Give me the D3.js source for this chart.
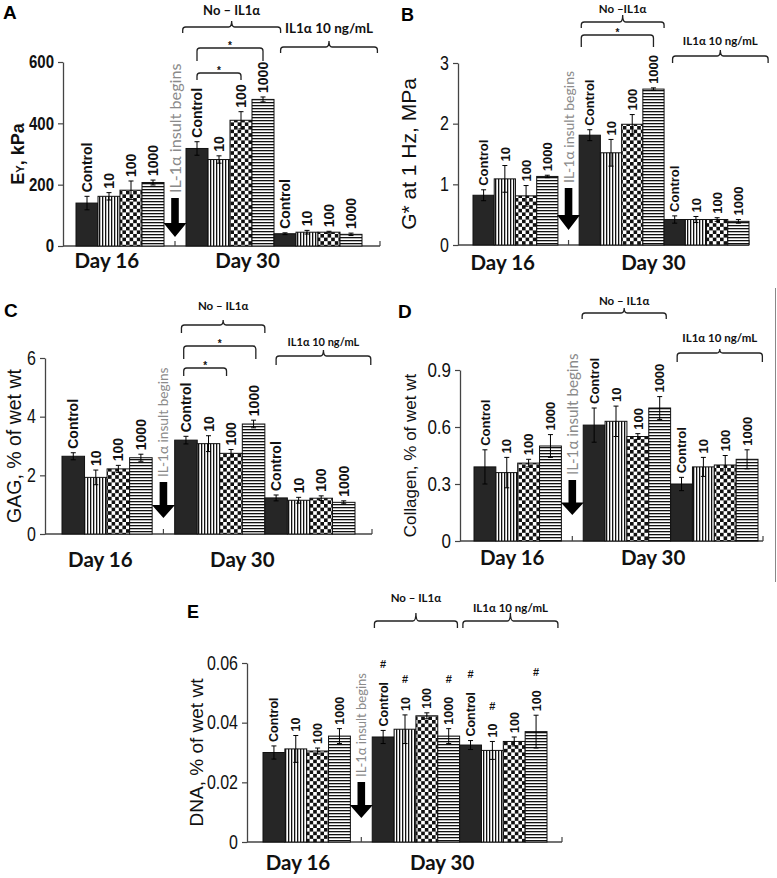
<!DOCTYPE html>
<html>
<head>
<meta charset="utf-8">
<script src="https://cdn.jsdelivr.net/npm/d3@7"></script>
<style>
  body { margin: 0; background: #fff; }
  svg { display: block; }
</style>
</head>
<body>
<div id="fig"></div>
<script>
// ---- categories ----
const doses = ["Control", "10", "100", "1000"];
const dosesDnaIl = ["Control", "10", "100", "100"]; // printed this way in panel E
const dayLabels = ["Day 16", "Day 30"];

// ---- A: Ey, kPa ----
const eyDay16 = [140, 162, 182, 207];
const eyDay16Err = [22, 12, 30, 8];
const eyDay30 = [318, 282, 410, 478];
const eyDay30Err = [22, 12, 28, 8];
const eyIl = [40, 45, 45, 38];
const eyIlErr = [3, 6, 3, 4];
const eyTicks = [0, 200, 400, 600];

// ---- B: G* at 1 Hz, MPa ----
const gDay16 = [0.82, 1.09, 0.81, 1.13];
const gDay16Err = [0.09, 0.22, 0.17, 0.02];
const gDay30 = [1.81, 1.52, 1.99, 2.57];
const gDay30Err = [0.09, 0.22, 0.16, 0.02];
const gIl = [0.42, 0.42, 0.42, 0.39];
const gIlErr = [0.06, 0.05, 0.03, 0.03];
const gTicks = [0, 1, 2, 3];

// ---- C: GAG, % of wet wt ----
const gagDay16 = [2.65, 1.93, 2.22, 2.6];
const gagDay16Err = [0.12, 0.25, 0.12, 0.12];
const gagDay30 = [3.2, 3.08, 2.75, 3.75];
const gagDay30Err = [0.13, 0.27, 0.13, 0.13];
const gagIl = [1.23, 1.15, 1.22, 1.08];
const gagIlErr = [0.1, 0.1, 0.08, 0.05];
const gagTicks = [0, 2, 4, 6];

// ---- D: Collagen, % of wet wt ----
const colDay16 = [0.39, 0.36, 0.41, 0.5];
const colDay16Err = [0.09, 0.08, 0.02, 0.06];
const colDay30 = [0.61, 0.63, 0.55, 0.7];
const colDay30Err = [0.09, 0.08, 0.015, 0.06];
const colIl = [0.3, 0.39, 0.4, 0.43];
const colIlErr = [0.035, 0.05, 0.05, 0.05];
const colTicks = [0, 0.3, 0.6, 0.9];

// ---- E: DNA, % of wet wt ----
const dnaDay16 = [0.03, 0.0312, 0.0305, 0.0355];
const dnaDay16Err = [0.0022, 0.0045, 0.001, 0.0025];
const dnaDay30 = [0.0352, 0.0378, 0.0423, 0.0355];
const dnaDay30Err = [0.0022, 0.0048, 0.001, 0.0025];
const dnaIl = [0.0325, 0.0307, 0.0337, 0.037];
const dnaIlErr = [0.0015, 0.003, 0.0015, 0.0055];
const dnaDay30Sig = [true, true, false, true];
const dnaIlSig = [true, true, false, true];
const dnaTicks = [0, 0.02, 0.04, 0.06];


/*******************************/
/*        SVG + patterns       */
/*******************************/
const svg = d3.select("#fig")
  .append("svg")
    .attr("width", 777)
    .attr("height", 878);

const defs = svg.append("defs");
const vert = defs.append("pattern")
  .attr("id", "vert").attr("patternUnits", "userSpaceOnUse")
  .attr("width", 3).attr("height", 10);
vert.append("rect").attr("width", 3).attr("height", 10).attr("fill", "#fff");
vert.append("rect").attr("width", 1.3).attr("height", 10).attr("fill", "#111");

const horiz = defs.append("pattern")
  .attr("id", "horiz").attr("patternUnits", "userSpaceOnUse")
  .attr("width", 10).attr("height", 3);
horiz.append("rect").attr("width", 10).attr("height", 3).attr("fill", "#fff");
horiz.append("rect").attr("width", 10).attr("height", 1.3).attr("fill", "#111");

const checker = defs.append("pattern")
  .attr("id", "checker").attr("patternUnits", "userSpaceOnUse")
  .attr("width", 7.2).attr("height", 7.2);
checker.append("rect").attr("width", 7.2).attr("height", 7.2).attr("fill", "#fff");
checker.append("rect").attr("width", 3.6).attr("height", 3.6).attr("fill", "#111");
checker.append("rect").attr("x", 3.6).attr("y", 3.6).attr("width", 3.6).attr("height", 3.6).attr("fill", "#111");

const fills = ["#262626", "url(#vert)", "url(#checker)", "url(#horiz)"];

const arialFont = "Arial, 'Liberation Sans', Helvetica, sans-serif";
const calibriFont = "Lato, 'Open Sans', sans-serif";


/*******************************/
/*       Panel definitions     */
/*******************************/
const panels = [
  {
    letter: "A", letterPos: [3, 19], letterSize: 19,
    axisX: 63, yTop: 62, yBot: 246, axisEnd: 380, barX0: 76, barX1: 362,
    domain: [0, 600], ticks: eyTicks, tickFmt: d3.format("d"), tickBold: true, tickSize: 15,
    yLabel: ["E", "Y", ", kPa"], yLabelX: 18, yLabelSize: 18, yLabelBold: true,
    series: [[eyDay16, eyDay16Err, doses], [eyDay30, eyDay30Err, doses], [eyIl, eyIlErr, doses]],
    barLabelSize: 14, dayPos: [1.4, 7.8], dayY: 268,
    arrow: [48, 9], insultSize: 16.2,
    brackets: [
      { s: [4.85, 9.3], y: 27, leg: 6, tick: 6, text: "No \u2013 IL1\u03b1", textY: 15, size: 13 },
      { s: [9.3, 13.7], y: 47, leg: 6, tick: 6, text: "IL1\u03b1 10 ng/mL", textY: 33, size: 13.5 }
    ],
    stars: [
      { s: [5.5, 8.5], y: 48, leg: 13 },
      { s: [5.5, 7.5], y: 73, leg: 7 }
    ]
  },
  {
    letter: "B", letterPos: [401, 21], letterSize: 18,
    axisX: 458, yTop: 63, yBot: 245, axisEnd: 749, barX0: 473, barX1: 749,
    domain: [0, 3], ticks: gTicks, tickFmt: d3.format("d"), tickBold: false, tickSize: 16,
    yLabel: ["G* at 1 Hz, MPa"], yLabelX: 409, yLabelSize: 21, yLabelBold: false,
    series: [[gDay16, gDay16Err, doses], [gDay30, gDay30Err, doses], [gIl, gIlErr, doses]],
    barLabelSize: 13, dayPos: [1.4, 8.5], dayY: 270,
    arrow: [57, 15], insultSize: 14,
    brackets: [
      { s: [5.1, 9.0], y: 22, leg: 6, tick: 7, text: "No \u2013IL1\u03b1", textY: 13, size: 11.5 },
      { s: [9.4, 13.9], y: 56, leg: 7, tick: 6, text: "IL1\u03b1 10 ng/mL", textY: 45, size: 11.5 }
    ],
    stars: [
      { s: [5.1, 8.5], y: 35, leg: 12 }
    ]
  },
  {
    letter: "C", letterPos: [4, 317], letterSize: 19,
    axisX: 45, yTop: 358, yBot: 534, axisEnd: 372, barX0: 62, barX1: 355,
    domain: [0, 6], ticks: gagTicks, tickFmt: d3.format("d"), tickBold: false, tickSize: 16,
    yLabel: ["GAG, % of wet wt"], yLabelX: 14, yLabelSize: 19.5, yLabelBold: false,
    series: [[gagDay16, gagDay16Err, doses], [gagDay30, gagDay30Err, doses], [gagIl, gagIlErr, doses]],
    barLabelSize: 14, dayPos: [1.7, 8.0], dayY: 567,
    arrow: [52, 16], insultSize: 13.7,
    brackets: [
      { s: [5.3, 9.0], y: 325, leg: 8, tick: 5, text: "No \u2013 IL1\u03b1", textY: 310, size: 11.5 },
      { s: [9.5, 13.7], y: 356, leg: 9, tick: 6, text: "IL1\u03b1 10 ng/mL", textY: 346, size: 11 }
    ],
    stars: [
      { s: [5.4, 8.6], y: 346, leg: 13 },
      { s: [5.4, 7.3], y: 368, leg: 8 }
    ]
  },
  {
    letter: "D", letterPos: [398, 318], letterSize: 19,
    axisX: 460, yTop: 370, yBot: 541, axisEnd: 763, barX0: 474, barX1: 758,
    domain: [0, 0.9], ticks: colTicks, tickFmt: d => d === 0 ? "0" : d3.format(".1f")(d), tickBold: false, tickSize: 17,
    yLabel: ["Collagen, % of wet wt"], yLabelX: 410, yLabelSize: 17, yLabelBold: false,
    series: [[colDay16, colDay16Err, doses], [colDay30, colDay30Err, doses], [colIl, colIlErr, doses]],
    barLabelSize: 13, dayPos: [1.75, 8.2], dayY: 565,
    arrow: [61, 26], insultSize: 15.2,
    brackets: [
      { s: [4.95, 8.8], y: 313, leg: 6, tick: 5, text: "No \u2013 IL1\u03b1", textY: 305, size: 11.5 },
      { s: [9.3, 13.2], y: 353, leg: 9, tick: 4, text: "IL1\u03b1 10 ng/mL", textY: 342, size: 11.5 }
    ],
    stars: [],
    border: true
  },
  {
    letter: "E", letterPos: [187, 618], letterSize: 18,
    axisX: 247, yTop: 663, yBot: 842, axisEnd: 562, barX0: 263, barX1: 547,
    domain: [0, 0.06], ticks: dnaTicks, tickFmt: d => d === 0 ? "0" : d3.format(".2f")(d), tickBold: false, tickSize: 16,
    yLabel: ["DNA, % of wet wt"], yLabelX: 196, yLabelSize: 19, yLabelBold: false,
    series: [[dnaDay16, dnaDay16Err, doses], [dnaDay30, dnaDay30Err, doses, dnaDay30Sig], [dnaIl, dnaIlErr, dosesDnaIl, dnaIlSig]],
    barLabelSize: 12.5, dayPos: [1.6, 8.2], dayY: 870,
    arrow: [60, 24], insultSize: 13,
    brackets: [
      { s: [5.1, 8.9], y: 621, leg: 7, tick: 8, text: "No \u2013 IL1\u03b1", textY: 602, size: 11.5 },
      { s: [9.15, 13.5], y: 621, leg: 7, tick: 8, text: "IL1\u03b1 10 ng/mL", textY: 612, size: 11.5 }
    ],
    stars: []
  }
];


/*******************************/
/*          Helpers            */
/*******************************/
const bracketPath = (x0, x1, y, leg, tick) => {
  const cx = (x0 + x1) / 2, r = 3;
  let p = `M${x0},${y + leg} L${x0},${y + r} Q${x0},${y} ${x0 + r},${y} `;
  if (tick) {
    p += `L${cx - r},${y} Q${cx},${y} ${cx},${y - tick} Q${cx},${y} ${cx + r},${y} `;
  }
  p += `L${x1 - r},${y} Q${x1},${y} ${x1},${y + r} L${x1},${y + leg}`;
  return p;
};

const drawPanel = (p) => {
  const g = svg.append("g");

  // Scales
  const xScale = d3.scaleBand()
    .domain(d3.range(13))
    .range([p.barX0, p.barX1])
    .paddingInner(0);
  const slotX = s => p.barX0 + s * xScale.step();
  const yScale = d3.scaleLinear()
    .domain(p.domain)
    .range([p.yBot, p.yTop]);

  // Left axis (tick digits in the source are drawn tall and narrow)
  const leftAxis = g.append("g")
    .attr("transform", `translate(${p.axisX}, 0)`)
    .call(d3.axisLeft(yScale).tickValues(p.ticks).tickFormat(p.tickFmt).tickSize(5).tickSizeOuter(0).tickPadding(4));
  leftAxis.select(".domain").attr("stroke", "#444").attr("stroke-width", 1.3);
  leftAxis.selectAll(".tick line").attr("stroke", "#444").attr("stroke-width", 1.2);
  leftAxis.selectAll(".tick text")
    .attr("font-family", arialFont)
    .attr("font-size", p.tickSize)
    .attr("font-weight", p.tickBold ? "bold" : "normal")
    .attr("transform", "scale(1, 1.22)")
    .attr("fill", "#111");

  // Bottom axis line, with inner ticks at the category boundary and end
  const gapCenter = slotX(4.5);
  g.append("line")
    .attr("x1", p.axisX).attr("x2", p.axisEnd)
    .attr("y1", p.yBot).attr("y2", p.yBot)
    .attr("stroke", "#444").attr("stroke-width", 1.3);
  [gapCenter, p.axisEnd].forEach(x => {
    g.append("line")
      .attr("x1", x).attr("x2", x)
      .attr("y1", p.yBot).attr("y2", p.yBot - 5)
      .attr("stroke", "#444").attr("stroke-width", 1.2);
  });

  // Y label
  const yl = g.append("text")
    .attr("transform", `translate(${p.yLabelX}, ${(p.yTop + p.yBot) / 2}) rotate(-90)`)
    .attr("text-anchor", "middle")
    .attr("dy", "0.35em")
    .attr("font-family", arialFont)
    .attr("font-size", p.yLabelSize)
    .attr("font-weight", p.yLabelBold ? "bold" : "normal")
    .attr("fill", "#111");
  if (p.yLabel.length === 3) {
    yl.append("tspan").text(p.yLabel[0]);
    yl.append("tspan").attr("font-size", p.yLabelSize * 0.62).text(p.yLabel[1]);
    yl.append("tspan").text(p.yLabel[2]);
  } else {
    yl.text(p.yLabel[0]);
  }

  // Bars
  const bars = [];
  const slotStarts = [0, 5, 9];
  p.series.forEach(([vals, errs, labels, sig], si) => {
    vals.forEach((v, i) => bars.push({
      slot: slotStarts[si] + i, value: v, err: errs[i], label: labels[i],
      fill: fills[i], sig: sig ? sig[i] : false
    }));
  });

  g.selectAll(".bar")
    .data(bars)
    .join("rect")
      .attr("class", "bar")
      .attr("x", d => xScale(d.slot))
      .attr("y", d => yScale(d.value))
      .attr("width", xScale.bandwidth())
      .attr("height", d => yScale(0) - yScale(d.value))
      .attr("fill", d => d.fill)
      .attr("stroke", "#111")
      .attr("stroke-width", 1);

  // Error bars
  const eb = g.selectAll(".err")
    .data(bars)
    .join("g")
      .attr("class", "err")
      .attr("stroke", "#000")
      .attr("stroke-width", 1);
  const cx = d => xScale(d.slot) + xScale.bandwidth() / 2;
  eb.append("line")
    .attr("x1", cx).attr("x2", cx)
    .attr("y1", d => yScale(d.value - d.err))
    .attr("y2", d => yScale(d.value + d.err));
  ["-", "+"].forEach(sign => {
    eb.append("line")
      .attr("x1", d => cx(d) - 2.5).attr("x2", d => cx(d) + 2.5)
      .attr("y1", d => yScale(sign === "+" ? d.value + d.err : d.value - d.err))
      .attr("y2", d => yScale(sign === "+" ? d.value + d.err : d.value - d.err));
  });

  // Rotated bar labels
  bars.forEach(d => {
    const y0 = yScale(d.value + d.err) - 4;
    const t = g.append("text")
      .attr("transform", `translate(${cx(d)}, ${y0}) rotate(-90)`)
      .attr("dy", "0.36em")
      .attr("font-family", arialFont)
      .attr("font-size", p.barLabelSize)
      .attr("font-weight", "bold")
      .attr("fill", "#111")
      .text(d.label);
    if (d.sig) {
      const len = t.node().getComputedTextLength();
      g.append("text")
        .attr("x", cx(d))
        .attr("y", y0 - len - 14)
        .attr("text-anchor", "middle")
        .attr("font-family", arialFont)
        .attr("font-size", 11)
        .attr("font-weight", "bold")
        .attr("fill", "#111")
        .text("#");
    }
  });

  // Arrow + "IL-1α insult begins"
  const aTop = p.yBot - p.arrow[0];
  const aTip = p.yBot - p.arrow[1];
  const hh = (aTip - aTop) * 0.36;
  const sw = 3.8, hw = 11.5;
  g.append("path")
    .attr("d", `M${gapCenter - sw},${aTop} L${gapCenter + sw},${aTop} L${gapCenter + sw},${aTip - hh} L${gapCenter + hw},${aTip - hh} L${gapCenter},${aTip} L${gapCenter - hw},${aTip - hh} L${gapCenter - sw},${aTip - hh} Z`)
    .attr("fill", "#000");
  g.append("text")
    .attr("transform", `translate(${gapCenter}, ${aTop - 5}) rotate(-90)`)
    .attr("dy", "0.36em")
    .attr("font-family", calibriFont)
    .attr("font-size", p.insultSize)
    .attr("fill", "#8a8a8a")
    .text("IL-1\u03b1 insult begins");

  // Day labels
  p.dayPos.forEach((s, i) => {
    g.append("text")
      .attr("x", slotX(s))
      .attr("y", p.dayY)
      .attr("text-anchor", "middle")
      .attr("font-family", calibriFont)
      .attr("font-size", 20.5)
      .attr("font-weight", "bold")
      .attr("fill", "#111")
      .text(dayLabels[i]);
  });

  // Group brackets
  p.brackets.forEach(b => {
    const x0 = slotX(b.s[0]), x1 = slotX(b.s[1]);
    g.append("path")
      .attr("d", bracketPath(x0, x1, b.y, b.leg, b.tick))
      .attr("fill", "none")
      .attr("stroke", "#222")
      .attr("stroke-width", 1.3);
    g.append("text")
      .attr("x", (x0 + x1) / 2)
      .attr("y", b.textY)
      .attr("text-anchor", "middle")
      .attr("font-family", calibriFont)
      .attr("font-size", b.size)
      .attr("font-weight", "bold")
      .attr("fill", "#111")
      .text(b.text);
  });

  // Significance brackets
  p.stars.forEach(b => {
    const x0 = slotX(b.s[0]), x1 = slotX(b.s[1]);
    g.append("path")
      .attr("d", bracketPath(x0, x1, b.y, b.leg, 0))
      .attr("fill", "none")
      .attr("stroke", "#222")
      .attr("stroke-width", 1.3);
    g.append("text")
      .attr("x", (x0 + x1) / 2)
      .attr("y", b.y + 1)
      .attr("text-anchor", "middle")
      .attr("font-family", arialFont)
      .attr("font-size", 10)
      .attr("font-weight", "bold")
      .attr("fill", "#111")
      .text("*");
  });

  // Panel letter
  g.append("text")
    .attr("x", p.letterPos[0])
    .attr("y", p.letterPos[1])
    .attr("font-family", arialFont)
    .attr("font-size", p.letterSize)
    .attr("font-weight", "bold")
    .attr("fill", "#000")
    .text(p.letter);

  if (p.border) {
    g.append("line")
      .attr("x1", 775.5).attr("x2", 775.5)
      .attr("y1", 288).attr("y2", 582)
      .attr("stroke", "#888").attr("stroke-width", 1);
  }
};

panels.forEach(drawPanel);
</script>
</body>
</html>
